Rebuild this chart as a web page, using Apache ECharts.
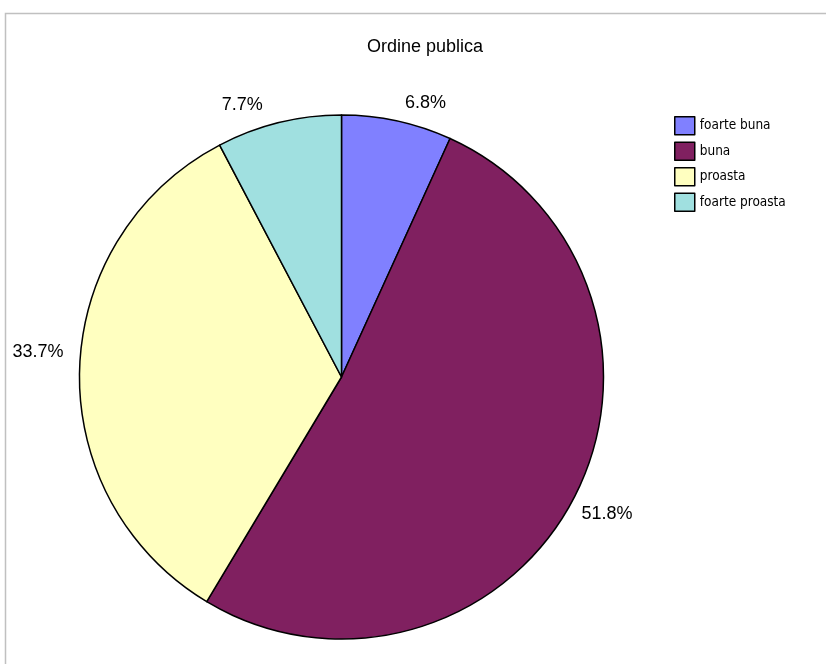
<!DOCTYPE html>
<html>
<head>
<meta charset="utf-8">
<style>html,body{margin:0;padding:0;background:#fff;}#chart{width:826px;height:664px;}</style>
<script src="https://cdn.jsdelivr.net/npm/echarts@6/dist/echarts.min.js"></script>
</head>
<body>
<div id="chart"></div>
<script>
const titleText = 'Ordine publica';
const categories = ['foarte buna', 'buna', 'proasta', 'foarte proasta'];
const values = [6.8, 51.8, 33.7, 7.7];
const colors = ['#8080FF', '#802060', '#FFFFC0', '#A0E0E0'];

const chart = echarts.init(document.getElementById('chart'), null, {renderer: 'canvas'});
const pieCenter = [341.5, 377];
const pieRadius = 262;

const option = {
  animation: false,
  backgroundColor: '#ffffff',
  graphic: [{
    type: 'rect',
    shape: {x: 5.5, y: 13.5, width: 900, height: 800},
    style: {fill: 'none', stroke: '#c0c0c0', lineWidth: 1.5},
    silent: true
  }],
  title: {
    text: titleText,
    left: 420,
    top: 33,
    textAlign: 'center',
    textStyle: {fontFamily: 'Liberation Sans, Arial, sans-serif', fontSize: 18, fontWeight: 'normal', color: '#000'}
  },
  legend: {
    orient: 'vertical',
    left: 674,
    top: 116,
    padding: 0,
    itemWidth: 20,
    itemHeight: 18,
    itemGap: 6,
    icon: 'rect',
    selectedMode: false,
    data: categories,
    itemStyle: {borderColor: '#000', borderWidth: 1.5},
    textStyle: {fontFamily: 'Liberation Sans Narrow, DejaVu Sans Condensed, sans-serif', fontSize: 13.5, color: '#000'}
  },
  series: [{
    type: 'pie',
    center: pieCenter,
    radius: pieRadius,
    startAngle: 90,
    clockwise: true,
    avoidLabelOverlap: false,
    emphasis: {disabled: true},
    color: colors,
    itemStyle: {borderColor: '#000', borderWidth: 1.5},
    label: {
      show: true,
      position: 'outside',
      fontFamily: 'Liberation Sans, Arial, sans-serif',
      fontSize: 18,
      color: '#000',
      formatter: p => p.value.toFixed(1) + '%'
    },
    labelLine: {show: true, length: 0, length2: 0, lineStyle: {opacity: 0, width: 0}},
    labelLayout: function (p) {
      const pts = p.labelLinePoints;
      if (!pts) return {};
      const e = pts[0];
      const dx = e[0] - pieCenter[0];
      const dy = e[1] - pieCenter[1];
      const sx = dx < 0 ? -1 : 1;
      const sy = dy < 0 ? -1 : 1;
      return {
        x: e[0] + sx * (p.labelRect.width / 2 + 12) - 4,
        y: e[1] + sy * (dy < 0 ? 17.5 : 15),
        align: 'center',
        verticalAlign: 'middle'
      };
    },
    data: categories.map((c, i) => ({name: c, value: values[i]}))
  }]
};
chart.setOption(option);
</script>
</body>
</html>
